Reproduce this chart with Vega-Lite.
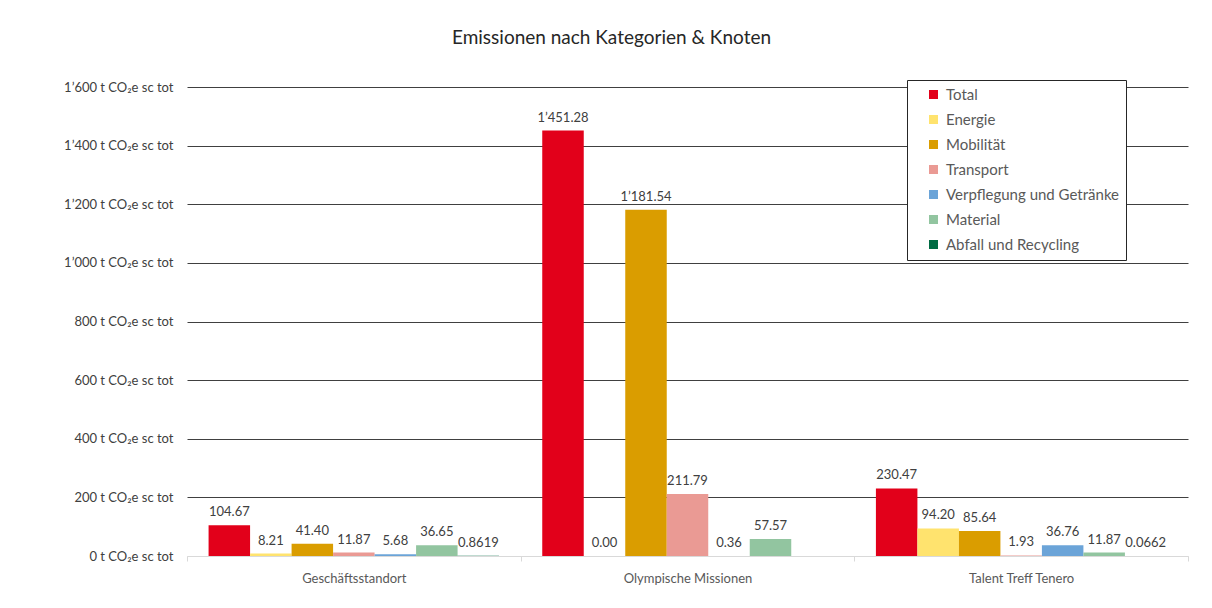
{
  "$schema": "https://vega.github.io/schema/vega-lite/v6.json",
  "width": 1001,
  "height": 469,
  "autosize": {"type": "none"},
  "padding": {"left": 187, "top": 87, "right": 24, "bottom": 52},
  "background": "white",
  "title": {
    "text": "Emissionen nach Kategorien & Knoten",
    "font": "Lato",
    "fontSize": 19,
    "fontWeight": "normal",
    "color": "#262626",
    "offset": 32,
    "dx": -76
  },
  "config": {
    "font": "Lato",
    "view": {"stroke": null}
  },
  "data": {
    "values": [
      {"knoten": "Geschäftsstandort", "kategorie": "Total", "wert": 104.67},
      {"knoten": "Geschäftsstandort", "kategorie": "Energie", "wert": 8.21},
      {"knoten": "Geschäftsstandort", "kategorie": "Mobilität", "wert": 41.40},
      {"knoten": "Geschäftsstandort", "kategorie": "Transport", "wert": 11.87},
      {"knoten": "Geschäftsstandort", "kategorie": "Verpflegung und Getränke", "wert": 5.68},
      {"knoten": "Geschäftsstandort", "kategorie": "Material", "wert": 36.65},
      {"knoten": "Geschäftsstandort", "kategorie": "Abfall und Recycling", "wert": 0.8619},
      {"knoten": "Olympische Missionen", "kategorie": "Total", "wert": 1451.28},
      {"knoten": "Olympische Missionen", "kategorie": "Energie", "wert": 0.00},
      {"knoten": "Olympische Missionen", "kategorie": "Mobilität", "wert": 1181.54},
      {"knoten": "Olympische Missionen", "kategorie": "Transport", "wert": 211.79},
      {"knoten": "Olympische Missionen", "kategorie": "Verpflegung und Getränke", "wert": 0.36},
      {"knoten": "Olympische Missionen", "kategorie": "Material", "wert": 57.57},
      {"knoten": "Talent Treff Tenero", "kategorie": "Total", "wert": 230.47},
      {"knoten": "Talent Treff Tenero", "kategorie": "Energie", "wert": 94.20},
      {"knoten": "Talent Treff Tenero", "kategorie": "Mobilität", "wert": 85.64},
      {"knoten": "Talent Treff Tenero", "kategorie": "Transport", "wert": 1.93},
      {"knoten": "Talent Treff Tenero", "kategorie": "Verpflegung und Getränke", "wert": 36.76},
      {"knoten": "Talent Treff Tenero", "kategorie": "Material", "wert": 11.87},
      {"knoten": "Talent Treff Tenero", "kategorie": "Abfall und Recycling", "wert": 0.0662}
    ]
  },
  "transform": [
    {"calculate": "datum.kategorie === 'Abfall und Recycling' ? format(datum.wert, '.4f') : replace(format(datum.wert, ',.2f'), ',', '’')", "as": "label"}
  ],
  "encoding": {
    "x": {
      "field": "knoten",
      "type": "nominal",
      "sort": null,
      "scale": {"paddingInner": 0, "paddingOuter": 0},
      "axis": {
        "title": null,
        "labelAngle": 0,
        "labelFont": "Lato",
        "labelFontSize": 13,
        "labelColor": "#595959",
        "labelPadding": 11,
        "domainColor": "#d9d9d9",
        "tickColor": "#d9d9d9",
        "tickBand": "extent",
        "tickSize": 5
      }
    },
    "xOffset": {
      "field": "kategorie",
      "type": "nominal",
      "sort": ["Total", "Energie", "Mobilität", "Transport", "Verpflegung und Getränke", "Material", "Abfall und Recycling"],
      "scale": {"domain": ["Total", "Energie", "Mobilität", "Transport", "Verpflegung und Getränke", "Material", "Abfall und Recycling"], "paddingInner": 0, "paddingOuter": 0.52}
    },
    "y": {
      "field": "wert",
      "type": "quantitative",
      "scale": {"domain": [0, 1600], "nice": false},
      "axis": {
        "title": null,
        "values": [0, 200, 400, 600, 800, 1000, 1200, 1400, 1600],
        "labelExpr": "replace(format(datum.value, ','), ',', '’') + ' t CO₂e sc tot'",
        "labelFont": "Lato",
        "labelFontSize": 13,
        "labelColor": "#404040",
        "labelPadding": 14,
        "ticks": false,
        "domain": false,
        "grid": true,
        "gridColor": {"condition": {"test": "datum.value === 0", "value": "#d9d9d9"}, "value": "#404040"},
        "gridWidth": 1
      }
    }
  },
  "layer": [
    {
      "mark": {"type": "bar"},
      "encoding": {
        "color": {
          "field": "kategorie",
          "type": "nominal",
          "scale": {
            "domain": ["Total", "Energie", "Mobilität", "Transport", "Verpflegung und Getränke", "Material", "Abfall und Recycling"],
            "range": ["#E2001A", "#FFE36E", "#DA9D00", "#EA9A94", "#6BA4D8", "#92C5A0", "#006B43"]
          },
          "legend": {
            "title": null,
            "orient": "none",
            "legendX": 720,
            "legendY": -7,
            "symbolType": "square",
            "symbolSize": 81,
            "symbolStrokeWidth": 0,
            "symbolOffset": 12,
            "labelFont": "Lato",
            "labelFontSize": 15,
            "labelColor": "#595959",
            "labelOffset": 5,
            "labelLimit": 300,
            "rowPadding": 9,
            "padding": 7,
            "strokeColor": "#262626",
            "fillColor": "white",
            "direction": "vertical"
          }
        }
      }
    },
    {
      "mark": {"type": "text", "baseline": "bottom", "dy": -6, "font": "Lato", "fontSize": 13, "color": "#404040"},
      "encoding": {
        "text": {"field": "label"}
      }
    }
  ]
}
